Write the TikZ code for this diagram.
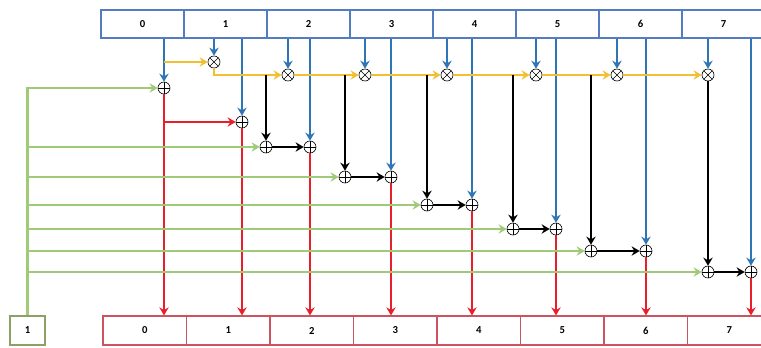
\documentclass[tikz,border=0pt]{standalone}
\usepackage{fontspec}
\setmainfont{Carlito}
\usetikzlibrary{arrows.meta}
\definecolor{wireblue}{RGB}{46,117,182}
\definecolor{wirered}{RGB}{232,30,40}
\definecolor{wiregold}{RGB}{242,190,50}
\definecolor{wiregreen}{RGB}{160,202,120}
\definecolor{cellblue}{RGB}{84,124,192}
\definecolor{cellred}{RGB}{204,84,96}
\definecolor{cellgreen}{RGB}{140,162,100}
\tikzset{
  cell/.style={draw, fill=white, line width=0.9pt, inner sep=0pt,
    font=\bfseries\footnotesize},
  topcell/.style={cell, draw=cellblue, minimum width=62.25pt, minimum height=21pt},
  botcell/.style={cell, draw=cellred, minimum width=62.6pt, minimum height=21.75pt},
  onecell/.style={cell, draw=cellgreen, minimum width=26.25pt, minimum height=21.75pt},
  opnode/.style={circle, draw, fill=white, line width=0.5pt, minimum size=9pt,
    inner sep=0pt},
  addnode/.style={opnode, path picture={
    \draw[line width=0.5pt] (path picture bounding box.north) -- (path picture bounding box.south)
      (path picture bounding box.west) -- (path picture bounding box.east);}},
  mulnode/.style={opnode, path picture={
    \draw[line width=0.5pt] (path picture bounding box.north west) -- (path picture bounding box.south east)
      (path picture bounding box.north east) -- (path picture bounding box.south west);}},
  wire/.style={->, line width=1.8pt},
  bluewire/.style={wire, draw=wireblue},
  redwire/.style={wire, draw=wirered},
  goldwire/.style={wire, draw=wiregold, line width=2.2pt},
  greenwire/.style={wire, draw=wiregreen},
  blackwire/.style={wire, draw=black}
}
\begin{document}
\begin{tikzpicture}[x=0.75pt,y=-0.75pt,>={Stealth[length=6pt,width=7pt]}]
  \useasboundingbox (0,0) rectangle (761,347);
  % input and output words
  \foreach \i in {0,...,7} {
    \node[topcell] (a\i) at ({142.5+83*\i},24) {\i};
    \node[botcell] (b\i) at ({144.8+83.5*\i},330.5) {\i};
  }
  \node[onecell] (one) at (27.5,330.5) {1};
  % adders and multipliers
  \foreach \i/\x/\y in {0/164/88, 1/242/122, 2/310/147, 3/391/177,
                        4/472/205, 5/556/229, 6/646/251, 7/751/272}
    \node[addnode] (p\i) at (\x,\y) {};
  \foreach \i/\x/\y in {2/266/147, 3/345/177, 4/427/205,
                        5/513/229, 6/591/251, 7/708/272}
    \node[addnode] (q\i) at (\x,\y) {};
  \foreach \i/\x/\y in {1/214/62, 2/288/75, 3/365/75, 4/447/75,
                        5/536/75, 6/617/75, 7/708/75}
    \node[mulnode] (m\i) at (\x,\y) {};
  % columns
  \foreach \i in {0,...,7} {
    \draw[bluewire] (p\i |- a\i.south) -- (p\i);
    \draw[redwire] (p\i) -- (p\i |- b\i.north);
  }
  \foreach \i in {1,...,7}
    \draw[bluewire] (m\i |- a\i.south) -- (m\i);
  \draw[redwire] (p0 |- p1) -- (p1);
  % product chain
  \draw[goldwire] (p0 |- m1) -- (m1);
  \draw[goldwire] (m1) |- (m2);
  \foreach \i/\j in {2/3, 3/4, 4/5, 5/6, 6/7}
    \draw[goldwire] (m\i) -- (m\j);
  \foreach \i in {2,...,6}
    \draw[blackwire] (q\i |- m2) -- (q\i);
  \draw[blackwire] (m7) -- (q7);
  \foreach \i in {2,...,7}
    \draw[blackwire] (q\i) -- (p\i);
  % constant one
  \draw[greenwire] (one) -- (one |- p0) -- (p0);
  \foreach \i in {2,...,7}
    \draw[greenwire] (one |- q\i) -- (q\i);
\end{tikzpicture}
\end{document}
